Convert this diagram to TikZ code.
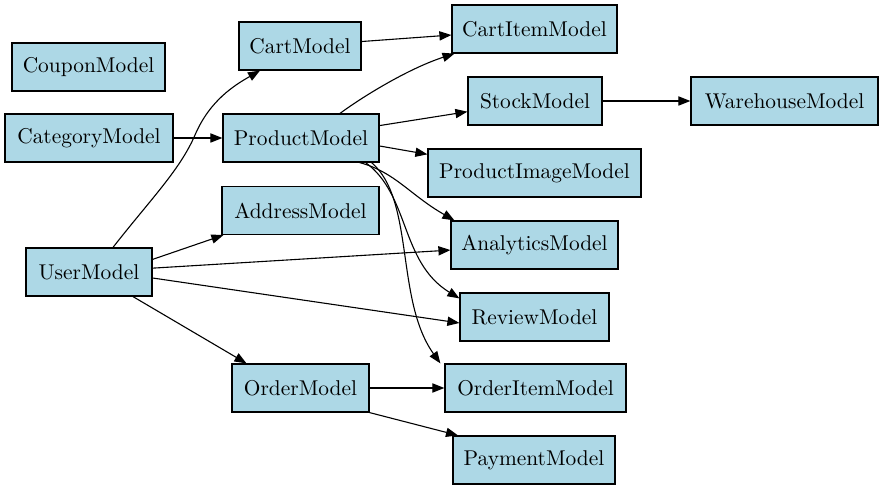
\documentclass[tikz,border=0pt]{standalone}
\usetikzlibrary{arrows.meta}
\begin{document}
\begin{tikzpicture}[x=0.5pt,y=-0.5pt,
  model/.style={draw=black,fill=lightblue,line width=0.6pt,minimum height=24pt,inner sep=0pt,font=\fontsize{10.7}{12.5}\selectfont},
  link/.style={draw=black,line width=0.55pt,-{Triangle[length=6pt,width=4.6pt]}}]
\definecolor{lightblue}{HTML}{ADD8E6}
\useasboundingbox (0,0) rectangle (883,491);
\node[model,minimum width=76.5pt] (coupon) at (88.5,67) {CouponModel};
\node[model,minimum width=84pt] (category) at (89,138) {CategoryModel};
\node[model,minimum width=61pt] (cart) at (300,46) {CartModel};
\node[model,minimum width=78pt] (product) at (301,138) {ProductModel};
\node[model,minimum width=78.5pt] (address) at (300.5,210.5) {AddressModel};
\node[model,minimum width=63pt] (user) at (89,272) {UserModel};
\node[model,minimum width=68.5pt] (order) at (300.5,388) {OrderModel};
\node[model,minimum width=82.5pt] (cartitem) at (534.5,29) {CartItemModel};
\node[model,minimum width=67pt] (stock) at (535,101) {StockModel};
\node[model,minimum width=106.5pt] (image) at (534.5,173) {ProductImageModel};
\node[model,minimum width=83.5pt] (analytics) at (534.5,245) {AnalyticsModel};
\node[model,minimum width=74.5pt] (review) at (534.5,317) {ReviewModel};
\node[model,minimum width=90.5pt] (orderitem) at (535.5,388) {OrderItemModel};
\node[model,minimum width=81pt] (payment) at (534,460) {PaymentModel};
\node[model,minimum width=93.5pt] (warehouse) at (784.5,101) {WarehouseModel};

\draw[link] (cart) -- (cartitem);
\draw[link] ([xshift=19.5pt]product.north) .. controls (365,95) and (410,68) .. ([xshift=-40pt]cartitem.south);
\draw[link] (product) -- (stock);
\draw[link] (stock) -- (warehouse);
\draw[link] ([yshift=-4pt]product.east) -- (image);
\draw[link] ([xshift=-10pt]product.south east) .. controls (395,172) and (410,195) .. ([xshift=2pt]analytics.north west);
\draw[link] ([xshift=-7pt]product.south east) .. controls (410,195) and (400,262) .. ([yshift=-3pt]review.north west);
\draw[link] ([xshift=-4pt]product.south east) .. controls (415,200) and (395,300) .. ([xshift=-2pt]orderitem.north west);
\draw[link] (category) -- (product);
\draw[link] ([xshift=12pt]user.north) .. controls (150,200) and (180,170) .. (195,135) .. controls (210,100) and (235,85) .. ([xshift=-20pt]cart.south);
\draw[link] ([yshift=-6pt]user.north east) -- ([xshift=1pt]address.south west);
\draw[link] (user) -- (analytics);
\draw[link] ([yshift=-3pt]user.east) -- ([yshift=-3pt]review.west);
\draw[link] ([xshift=22pt]user.south) -- ([xshift=-27pt]order.north);
\draw[link] (order) -- (orderitem);
\draw[link] (order.south east) -- ([xshift=-38pt]payment.north);
\end{tikzpicture}
\end{document}
